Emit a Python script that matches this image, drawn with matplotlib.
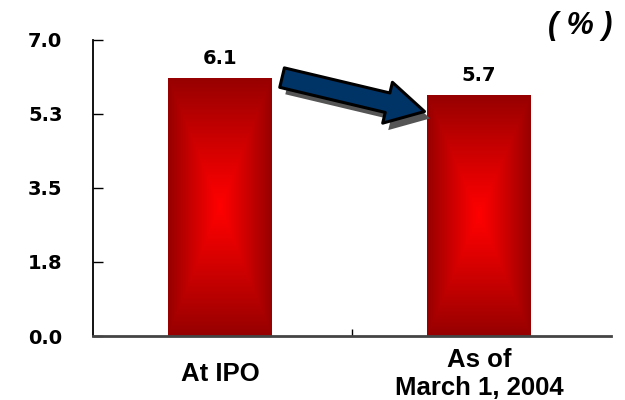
import numpy as np
import matplotlib
matplotlib.use("Agg")
from matplotlib import pyplot as plt
from matplotlib import patheffects as pe

categories = ["At IPO", "As of\nMarch 1, 2004"]
values = [6.1, 5.7]
yticks = [0.0, 1.75, 3.5, 5.25, 7.0]
ytick_labels = ["0.0", "1.8", "3.5", "5.3", "7.0"]
unit_label = "( % )"

plt.rcParams["font.family"] = ["Liberation Sans", "DejaVu Sans"]
plt.rcParams["font.weight"] = "bold"
num_font = "DejaVu Sans"

fig = plt.figure(figsize=(6.25, 4), dpi=100)
ax = fig.add_axes([0.1488, 0.16, 0.8288, 0.74125])

x = np.arange(len(values))
bar_w = 0.4
bars = ax.bar(x, values, width=bar_w, color="none", edgecolor="none")

# rectangular gradient: bright red in the middle, dark red toward every edge
n = 200
u = np.linspace(-1, 1, n)
U, V = np.meshgrid(u, u)
t = np.maximum(np.abs(U), np.abs(V)) ** 1.1
edge = np.array([150, 0, 0]) / 255
centre = np.array([255, 0, 0]) / 255
grad = centre[None, None, :] * (1 - t[..., None]) + edge[None, None, :] * t[..., None]

for rect in bars:
    x0, y0 = rect.get_x(), rect.get_y()
    w, h = rect.get_width(), rect.get_height()
    im = ax.imshow(grad, extent=[x0, x0 + w, y0, y0 + h], aspect="auto",
                   interpolation="bilinear", zorder=2)
    im.set_clip_path(rect)

for xi, v in zip(x, values):
    ax.annotate(f"{v}", xy=(xi, v), xytext=(0, 9.5), textcoords="offset points",
                ha="center", va="baseline", fontsize=14, fontweight="bold",
                family=num_font)

# arrow from the first bar down to the second one
arrow = ax.annotate("", xy=(x[1] - bar_w / 2 - 0.01, values[1] - 0.4),
                    xytext=(x[0] + bar_w / 2 + 0.04, values[0]),
                    arrowprops=dict(arrowstyle="simple,head_length=1.9,head_width=2.1,tail_width=1.0",
                                    mutation_scale=14.4, fc="#003366", ec="black", lw=2.2,
                                    shrinkA=0, shrinkB=0),
                    zorder=5)
arrow.arrow_patch.set_path_effects([
    pe.SimplePatchShadow(offset=(4, -5), shadow_rgbFace="#555555", alpha=1.0),
    pe.Normal()])

ax.set_xlim(-0.49, 1.51)
ax.set_ylim(0, 7.0)
ax.set_yticks(yticks)
ax.set_yticklabels(ytick_labels, family=num_font, fontweight="bold")
ax.tick_params(axis="y", direction="in", length=7, width=1, pad=22, labelsize=14)
ax.set_xticks([])
ax.set_xticks([np.mean(ax.get_xlim())], minor=True)
ax.tick_params(axis="x", which="minor", direction="in", length=5, width=1)

for xi, label in zip(x, categories):
    ax.text(xi, -0.128, label, transform=ax.get_xaxis_transform(),
            ha="center", va="center", fontsize=18.5, fontweight="bold", linespacing=1.25)

for side in ["top", "right"]:
    ax.spines[side].set_visible(False)
ax.spines["left"].set_color("black")
ax.spines["left"].set_linewidth(1.3)
ax.spines["bottom"].set_color("#444444")
ax.spines["bottom"].set_linewidth(2)

fig.text(0.928, 0.936, unit_label, ha="center", va="center",
         fontsize=22, fontweight="bold", fontstyle="italic")

fig.savefig("out.png", dpi=100)
